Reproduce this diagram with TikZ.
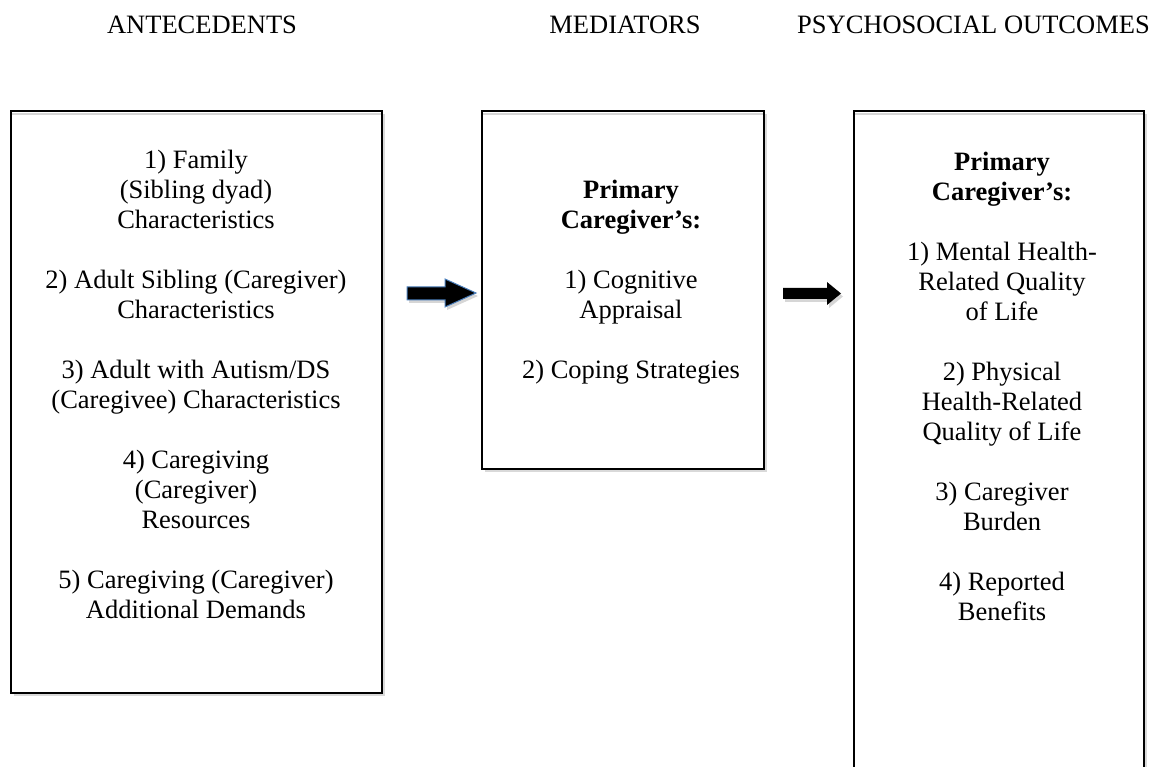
\documentclass[tikz,border=0pt]{standalone}
\usepackage{fontspec}
\setmainfont{Liberation Serif}
\usetikzlibrary{shadows}
\definecolor{arrowblue}{HTML}{4A7EBB}
\begin{document}
\begin{tikzpicture}[x=1pt,y=-1pt,
  txt/.style={align=center, font=\fontsize{26.5}{30}\selectfont, inner sep=0pt},
  head/.style={font=\fontsize{26.5}{30}\selectfont, inner sep=0pt},
  panel/.style={draw=black, line width=1.8pt, fill=white, anchor=north west,
    inner sep=0pt,
    drop shadow={shadow xshift=3pt, shadow yshift=-3pt, fill=black!15, opacity=1}},
  rim/.style={black!16, line width=2pt},
  shade/.style={fill=black!16},
  blockarrow/.style={fill=black, line join=miter},
]
\useasboundingbox (0,0) rectangle (1168,767);

% column headings
\node[head] (hAnte) at (202,25) {ANTECEDENTS};
\node[head] (hMed) at (625,25) {MEDIATORS};
\node[head, anchor=east] (hOut) at (1150,25) {PSYCHOSOCIAL OUTCOMES};

% panels
\node[panel, minimum width=371, minimum height=582] (ante) at (10,110) {};
\node[panel, minimum width=282, minimum height=358] (med) at (481,110) {};
\node[panel, minimum width=290, minimum height=690] (out) at (853,110) {};
\foreach \p in {ante,med,out}
  \draw[rim] ([xshift=2pt,yshift=-4pt]\p.north west) -- ([xshift=-2pt,yshift=-4pt]\p.north east);

% panel contents
\node[txt] (anteText) at (196,384) {1) Family\\(Sibling dyad)\\Characteristics\\[30pt]
  2) Adult Sibling (Caregiver)\\Characteristics\\[30pt]
  3) Adult with Autism/DS\\(Caregivee) Characteristics\\[30pt]
  4) Caregiving\\(Caregiver)\\Resources\\[30pt]
  5) Caregiving (Caregiver)\\Additional Demands};

\node[txt] (medText) at (631,282) {\textbf{Primary}\\\textbf{Caregiver’s:}\\[30pt]
  1) Cognitive\\Appraisal\\[30pt]
  2) Coping Strategies};

\node[txt] (outText) at (1002,386) {\textbf{Primary}\\\textbf{Caregiver’s:}\\[30pt]
  1) Mental Health-\\Related Quality\\of Life\\[30pt]
  2) Physical\\Health-Related\\Quality of Life\\[30pt]
  3) Caregiver\\Burden\\[30pt]
  4) Reported\\Benefits};

% block arrows between the panels
\fill[shade, shift={(2,3)}] (407,287) -- (445,287) -- (445,279) -- (476,293)
  -- (445,307) -- (445,300) -- (407,300) -- cycle;
\filldraw[blockarrow, draw=arrowblue, line width=1pt] (407,287) -- (445,287) -- (445,279)
  -- (476,293) -- (445,307) -- (445,300) -- (407,300) -- cycle;

\fill[shade, shift={(2,3)}] (783,288) -- (827,288) -- (827,282) -- (841,293.5)
  -- (827,305) -- (827,299) -- (783,299) -- cycle;
\fill[blockarrow] (783,288) -- (827,288) -- (827,282) -- (841,293.5)
  -- (827,305) -- (827,299) -- (783,299) -- cycle;
\end{tikzpicture}
\end{document}
